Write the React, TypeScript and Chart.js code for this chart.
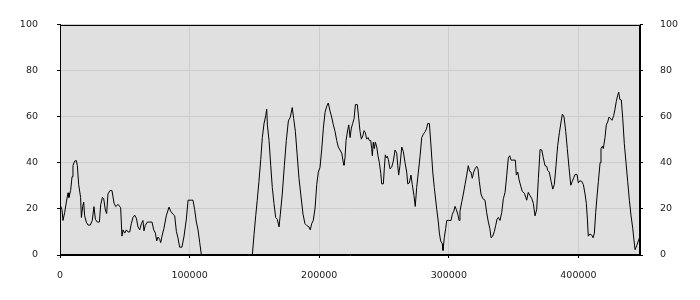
import React, { useEffect, useRef } from "react";
import { Chart, registerables } from "chart.js";

Chart.register(...registerables);

const xValues: (number)[] = [
  0, 1500, 2300, 3600, 4900, 6200, 6900, 8200, 9300, 10000, 11300, 12600, 13400, 14400, 15900, 16500,
  17500, 18300, 19000, 20300, 21600, 23400, 24900, 26200, 27300, 28800, 30400, 31400, 32700, 33700,
  35000, 36000, 37000, 38600, 40100, 41700, 43000, 44800, 46800, 47800, 48600, 49900, 51200, 52500,
  53800, 55000, 56300, 57600, 58900, 60200, 61500, 62800, 64000, 64800, 65800, 67400, 69200, 71000,
  72300, 73600, 74600, 75600, 76900, 77700, 78700, 80200, 82000, 84100, 85400, 87200, 88500, 89800,
  91000, 92300, 94100, 95700, 97500, 98800, 101300, 102600, 103900, 105200, 106500, 107800, 109100,
  128000,
  148400, 149700, 151000, 152200, 153500, 154900, 156100, 157400, 158700, 159500, 160000, 161300,
  162600, 163800, 165100, 166400, 167700, 169000, 170000, 171500, 173100, 174600, 176200, 177700,
  179200, 180300, 181600, 182900, 184400, 186000, 187500, 189000, 190600, 192100, 193100, 194200,
  195400, 196800, 198100, 199300, 200600, 201900, 203200, 204500, 205800, 207000, 208300, 209600,
  210900, 212200, 213500, 214700, 216000, 217400, 218600, 219100, 219900, 220700, 222000, 222800,
  223800, 224800, 225800, 226900, 227900, 229400, 230500, 231500, 232500, 233600, 234600, 235600,
  236600, 237700, 238700, 239700, 240500, 241000, 241700, 242500, 243300, 244400, 245400, 246400,
  247500, 248200, 249500, 250200, 251000, 251800, 252500, 253300, 254600, 255900, 257200, 258500,
  259800, 260600, 261300, 262300, 263700, 264900, 266200, 267500, 268300, 269500, 270800, 271800,
  273100, 274100, 275200, 276500, 277800, 279100, 280300, 281900, 282900, 283700, 285000, 286300,
  287600, 288800, 290700, 291900, 292700, 293700, 295000, 295500, 296500, 297600, 298400, 299600,
  301700, 302700, 303800, 304800, 305800, 306900, 307900, 308600, 310000, 311200, 312500, 313800,
  315000, 316100, 317100, 318100, 319200, 320200, 321500, 322500, 323500, 324800, 326200, 327900,
  329200, 330500, 331600, 332600, 333900, 335100, 336200, 337200, 338200, 339500, 340800, 342100,
  343400, 344700, 345900, 347000, 348000, 350100, 351300, 352100, 353200, 354200, 355500, 356700,
  358300, 360100, 361300, 362700, 364000, 365200, 366500, 367800, 369100, 370400, 371700, 372900,
  374200, 375500, 376300, 377500, 378900, 380200, 381400, 382700, 384000, 385300, 386600, 387600,
  388900, 390200, 391400, 392700, 394100, 395300, 396400, 397400, 398900, 399900, 401000, 402500,
  403800, 405100, 406100, 406900, 407600, 408900, 410300, 411300, 412300, 413300, 414300, 415400,
  416700, 417400, 418400, 419200, 420500, 421500, 422600, 423600, 424900, 425900, 427200, 428200,
  429200, 430300, 431100, 431900, 433100, 434200, 435400, 436700, 438000, 439300, 440600, 441900,
  442900, 443700, 445000, 446200, 447500,
];

const yValues: (number | null)[] = [
  22, 19.7, 15, 18.4, 23, 27, 25, 28, 34, 38.8, 40.8, 41, 38.8, 30.6, 25, 16.3,
  21, 23, 17, 14.3, 13, 13, 15, 21, 15.5, 14.3, 14.3, 21.8, 25, 24.5,
  19.5, 18, 26.5, 28, 28, 22.5, 21, 22, 20.5, 8.2, 10.9, 9.5, 10.9, 10,
  10, 13.6, 16.3, 17.3, 16, 12.2, 10.9, 13.6, 15, 10.5, 12.9, 14.3, 14.3, 14.3,
  10.9, 9.5, 6.1, 7.8, 6.8, 5.4, 8.2, 11.6, 17, 20.8, 19, 17.7, 17, 10.2,
  7.5, 3.4, 3.4, 8.2, 15.6, 23.8, 23.8, 23.8, 19.7, 14.3, 10.9, 5.4, 0,
  null,
  0, 8.8, 17, 23.8, 32, 41.5, 51, 57, 60.5, 63.3, 56.5, 49.7,
  38.8, 29.3, 22.4, 16.3, 15.4, 12.2, 17.7, 26.5, 38.8, 49.7, 58.2, 59.9,
  64, 59.2, 53.7, 44.2, 33.3, 25.2, 17.7, 13.6, 12.7, 12.2, 10.9, 13.6,
  15, 20.4, 30.6, 36, 38, 45.6, 55.1, 61.9, 64.6, 66, 62.6, 59.9,
  56.5, 53.7, 49.7, 46.9, 45.6, 44.2, 40.1, 39, 42.2, 49.7, 54.4, 56.5,
  51, 55.1, 57.1, 59.2, 65.3, 65.3, 59.2, 53.7, 50.3, 51.7, 54, 53.1,
  50.3, 51, 49.7, 49.7, 46.2, 43.1, 49, 46.2, 49, 46.9, 42.9, 40.1,
  35.4, 30.9, 30.9, 37.4, 43.5, 42.2, 42.9, 41.5, 37.4, 38.1, 40.8, 45.6,
  44.2, 38.8, 34.7, 38.8, 46.9, 44.9, 40.1, 36, 30.9, 31.3, 34.7, 30.6,
  25.8, 21.1, 29.3, 36, 42.9, 51, 52.4, 53.7, 55.1, 57.1, 57.1, 46.9,
  36, 29.3, 19.7, 14.3, 9.5, 6.1, 4.8, 2, 7.5, 11.6, 15, 15,
  15, 17.7, 19, 21.1, 19.7, 17.7, 15, 19, 23.1, 26.5, 30.6, 34.7,
  38.8, 36.3, 36, 33.3, 36, 37.4, 38.5, 37.4, 32, 26.5, 24.5, 23.8,
  18.4, 14.3, 11.6, 7.5, 8.2, 10.2, 12.9, 15.6, 16.3, 15, 18.4, 24.5,
  27.2, 34.7, 42.2, 43.1, 41.2, 41.2, 41.2, 34.7, 36, 32.7, 29.9, 27.6,
  26.8, 23.8, 27.2, 25.8, 24.5, 22.4, 17, 19.7, 33.3, 45.8, 45.6, 42.2,
  38.8, 38.5, 36.7, 36, 32, 28.6, 30.6, 38.8, 47.6, 53.1, 57.8, 61.2,
  59.9, 53.7, 46.2, 38.1, 30.3, 32, 33.6, 35, 35, 31.3, 32.2, 32,
  30.6, 26.5, 22.4, 15.6, 8.2, 9.1, 8.6, 7.5, 9.5, 18.4, 25.2, 32,
  40.1, 46.2, 47.2, 46.2, 51, 56.5, 57.8, 59.9, 59.2, 58.5, 60.5, 63.3,
  66.7, 69.4, 70.7, 67.6, 67.3, 59.2, 48.3, 40.1, 32, 23.8, 17, 11.6,
  6.1, 2.3, 4.1, 6.1, 8.2,
];

const xTickValues = [0, 100000, 200000, 300000, 400000];
const xMin = 0;
const xMax = 447500;
const yMin = 0;
const yMax = 100;
const yStep = 20;

const FONT = { family: "'DejaVu Sans'", size: 9.5 };
const TEXT = "#1a1a1a";
const GRID = "#cdcdcd";
const BG = "#e0e0e0";

const plotFrame = {
  id: "plotFrame",
  beforeDraw(chart: any) {
    const a = chart.chartArea;
    const ctx = chart.ctx;
    ctx.save();
    ctx.fillStyle = BG;
    ctx.fillRect(a.left, a.top, a.right - a.left, a.bottom - a.top);
    ctx.restore();
  },
  afterDraw(chart: any) {
    const a = chart.chartArea;
    const ctx = chart.ctx;
    ctx.save();
    ctx.strokeStyle = "#000";
    ctx.lineWidth = 1;
    ctx.strokeRect(Math.round(a.left) + 0.5, Math.round(a.top) + 0.5, Math.round(a.right - a.left) - 1, Math.round(a.bottom - a.top) - 1);
    ctx.restore();
  },
};

export default function App() {
  const ref = useRef<HTMLCanvasElement | null>(null);
  useEffect(() => {
    if (!ref.current) return;
    const points = xValues.map((x, i) => ({ x, y: yValues[i] }));
    const chart = new Chart(ref.current, {
      type: "line",
      data: {
        datasets: [
          {
            data: points as any,
            borderColor: "#000",
            borderWidth: 1,
            pointRadius: 0,
            tension: 0,
            fill: false,
            spanGaps: false,
          },
        ],
      },
      plugins: [plotFrame],
      options: {
        animation: false,
        responsive: true,
        maintainAspectRatio: false,
        layout: { padding: { top: 10, left: 0, right: 0, bottom: 0 } },
        plugins: { legend: { display: false }, tooltip: { enabled: false } },
        scales: {
          x: {
            type: "linear",
            min: xMin,
            max: xMax,
            afterFit: (s: any) => { s.height = 45; },
            afterBuildTicks: (s: any) => { s.ticks = xTickValues.map((v) => ({ value: v })); },
            border: { color: "#000" },
            grid: { color: GRID, tickColor: "#000", tickLength: 3 },
            ticks: {
              maxRotation: 0,
              autoSkip: false,
              padding: 12,
              color: TEXT,
              font: FONT,
              callback: (v: any) => String(v),
            },
          },
          y: {
            type: "linear",
            position: "left",
            min: yMin,
            max: yMax,
            afterFit: (s: any) => { s.width = 60; },
            border: { color: "#000" },
            grid: { color: GRID, tickColor: "#000", tickLength: 3 },
            ticks: { stepSize: yStep, padding: 19, color: TEXT, font: FONT, callback: (v: any) => String(v) },
          },
          y2: {
            type: "linear",
            position: "right",
            min: yMin,
            max: yMax,
            afterFit: (s: any) => { s.width = 60; },
            border: { color: "#000" },
            grid: { drawOnChartArea: false, tickColor: "#000", tickLength: 3 },
            ticks: { stepSize: yStep, padding: 17, color: TEXT, font: FONT, callback: (v: any) => String(v) },
          },
        },
      },
    });
    return () => chart.destroy();
  }, []);
  return (
    <div style={{ position: "absolute", left: 0, top: 0, width: 700, height: 300 }}>
      <canvas ref={ref} />
    </div>
  );
}
